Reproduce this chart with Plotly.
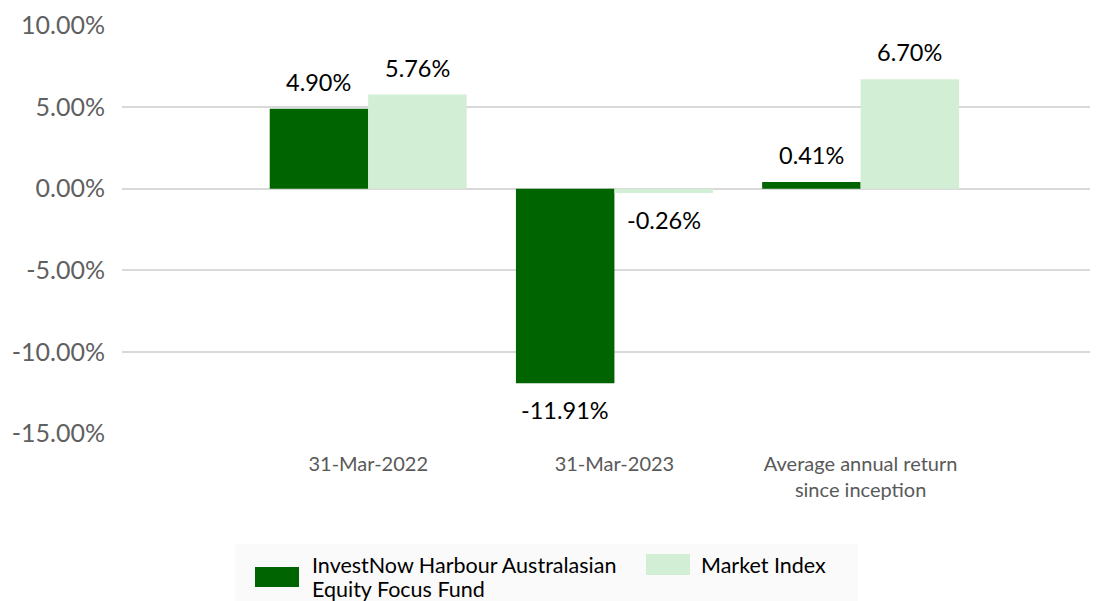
import plotly.graph_objects as go

categories = ["31-Mar-2022", "31-Mar-2023", "Average annual return<br>since inception"]
fund_name_lines = ["InvestNow Harbour Australasian", "Equity Focus Fund"]
index_name = "Market Index"
fund_values = [4.90, -11.91, 0.41]
index_values = [5.76, -0.26, 6.70]
y_ticks = [-15, -10, -5, 0, 5, 10]
y_tick_labels = ["-15.00%", "-10.00%", "-5.00%", "0.00%", "5.00%", "10.00%"]

DARK = "#006400"
LIGHT = "#d2eed4"
FONT = "Lato"

# the page body has an 8px margin, so the figure is offset by 8px
OFF = 8
W, H = 1098 - OFF, 601 - OFF
ML, MR, MT, MB = 122 - OFF, 1, 25 - OFF, 167
PW, PH = W - ML - MR, H - MT - MB


def px_x(p):
    return (p - OFF - ML) / PW


def px_y(p):
    return (H - MB - (p - OFF)) / PH


fig = go.Figure()
fig.add_trace(go.Bar(x=categories, y=fund_values, name=" ".join(fund_name_lines),
                     marker_color=DARK, marker_line_width=0, showlegend=False))
fig.add_trace(go.Bar(x=categories, y=index_values, name=index_name, marker_color=LIGHT,
                     marker_line_width=0, showlegend=False))

annotations = []
for offset, vals in ((-0.2, fund_values), (0.2, index_values)):
    for i, v in enumerate(vals):
        annotations.append(dict(
            x=i + offset, y=v, xref="x", yref="y", text=f"{v:.2f}%", showarrow=False,
            yshift=27 if v >= 0 else -27, yanchor="middle", xanchor="center",
            font=dict(family=FONT, size=23.5, color="#000000")))

# legend (drawn as paper-positioned decoration)
shapes = [
    dict(type="rect", xref="paper", yref="paper", x0=px_x(235), x1=px_x(858),
         y0=px_y(601), y1=px_y(544), fillcolor="#fafafa", line_width=0, layer="below"),
    dict(type="rect", xref="paper", yref="paper", x0=px_x(255), x1=px_x(299),
         y0=px_y(587), y1=px_y(567), fillcolor=DARK, line_width=0),
    dict(type="rect", xref="paper", yref="paper", x0=px_x(646), x1=px_x(690),
         y0=px_y(575), y1=px_y(554), fillcolor=LIGHT, line_width=0),
]
legend_font = dict(family=FONT, size=21.5, color="#000000")
annotations += [
    dict(xref="paper", yref="paper", x=px_x(310), y=px_y(565), text=fund_name_lines[0],
         showarrow=False, xanchor="left", yanchor="middle", font=legend_font),
    dict(xref="paper", yref="paper", x=px_x(310), y=px_y(589), text=fund_name_lines[1],
         showarrow=False, xanchor="left", yanchor="middle", font=legend_font),
    dict(xref="paper", yref="paper", x=px_x(699), y=px_y(565), text=index_name,
         showarrow=False, xanchor="left", yanchor="middle", font=legend_font),
]

fig.update_layout(
    width=W, height=H,
    margin=dict(l=ML, r=MR, t=MT, b=MB, autoexpand=False),
    paper_bgcolor="white", plot_bgcolor="white",
    barmode="group", bargap=0.2, bargroupgap=0,
    font=dict(family=FONT),
    showlegend=False,
    shapes=shapes,
    annotations=annotations,
    xaxis=dict(type="category", range=[-1.0, 2.96], showgrid=False, showline=False,
               zeroline=False, ticks="", ticklabelstandoff=16, automargin=False,
               tickfont=dict(family=FONT, size=20, color="#595959")),
    yaxis=dict(range=[-15.02, 10.02], tickvals=y_ticks, ticktext=y_tick_labels,
               showgrid=True, gridcolor="#d9d9d9", gridwidth=1.5,
               zeroline=True, zerolinecolor="#d9d9d9", zerolinewidth=1.5,
               showline=False, ticks="", ticklabelstandoff=16, automargin=False,
               tickfont=dict(family=FONT, size=25, color="#606060")),
)

fig.write_html("out.html")
